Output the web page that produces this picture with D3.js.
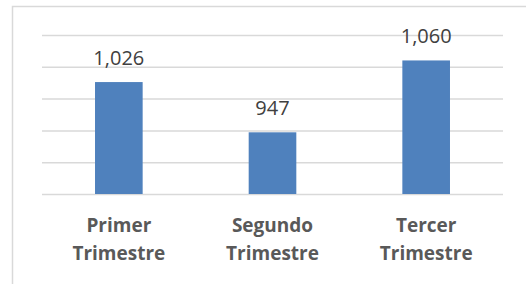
<!DOCTYPE html>
<html>
<head>
<meta charset="utf-8">
<script src="https://cdn.jsdelivr.net/npm/d3@7"></script>
<style>
  body { margin: 0; background: #fff; }
  svg { display: block; }
</style>
</head>
<body>
<div id="chart"></div>
<script>
// Chart size
const width = 526;
const height = 284;

// Data
const categories = [["Primer", "Trimestre"], ["Segundo", "Trimestre"], ["Tercer", "Trimestre"]];
const values = [1026, 947, 1060];
const yTicks = [850, 900, 950, 1000, 1050, 1100];

const plot = { left: 42, right: 503, top: 35, bottom: 194 };

const svg = d3.select("#chart")
  .append("svg")
  .attr("width", width)
  .attr("height", height);

// chart area border (runs off the right and bottom edges)
svg.append("rect")
  .attr("x", 12.5)
  .attr("y", 6.5)
  .attr("width", 540)
  .attr("height", 300)
  .attr("fill", "#fff")
  .attr("stroke", "#d9d9d9")
  .attr("stroke-width", 1.5);

// X scale
const x = d3.scaleBand()
  .domain(d3.range(values.length))
  .range([plot.left, plot.right])
  .paddingInner(0.69)
  .paddingOuter(0.345);

// Y scale
const y = d3.scaleLinear()
  .domain([850, 1100])
  .range([plot.bottom, plot.top]);

// gridlines
svg.append("g")
  .attr("transform", "translate(" + plot.left + ",0)")
  .call(d3.axisLeft(y).tickValues(yTicks).tickSize(-(plot.right - plot.left)).tickFormat(""))
  .call(g => g.select(".domain").remove())
  .call(g => g.selectAll(".tick line").attr("stroke", "#d9d9d9").attr("stroke-width", 1.5));

// bars
svg.append("g")
  .selectAll("rect")
  .data(values).enter()
  .append("rect")
  .attr("x", (d, i) => x(i))
  .attr("y", d => y(d))
  .attr("width", x.bandwidth())
  .attr("height", d => y(850) - y(d))
  .attr("fill", "#4f81bd");

// value labels
svg.append("g")
  .selectAll("text")
  .data(values).enter()
  .append("text")
  .attr("x", (d, i) => x(i) + x.bandwidth() / 2)
  .attr("y", d => y(d) - 17)
  .attr("text-anchor", "middle")
  .style("font-family", "'Open Sans', sans-serif")
  .style("font-size", "20px")
  .style("fill", "#404040")
  .text(d => d3.format(",")(d));

// category labels
const xAxis = svg.append("g")
  .attr("transform", "translate(0," + plot.bottom + ")")
  .call(d3.axisBottom(x).tickSize(0).tickFormat(""))
  .call(g => g.select(".domain").remove());

xAxis.selectAll(".tick text")
  .data(categories)
  .attr("y", 0)
  .attr("dy", null)
  .style("font-family", "'Open Sans', sans-serif")
  .style("font-size", "19px")
  .style("font-weight", "bold")
  .style("fill", "#595959")
  .each(function(lines) {
    const t = d3.select(this);
    lines.forEach((line, k) => {
      t.append("tspan")
        .attr("x", 0)
        .attr("y", 38 + k * 28)
        .text(line);
    });
  });
</script>
</body>
</html>
